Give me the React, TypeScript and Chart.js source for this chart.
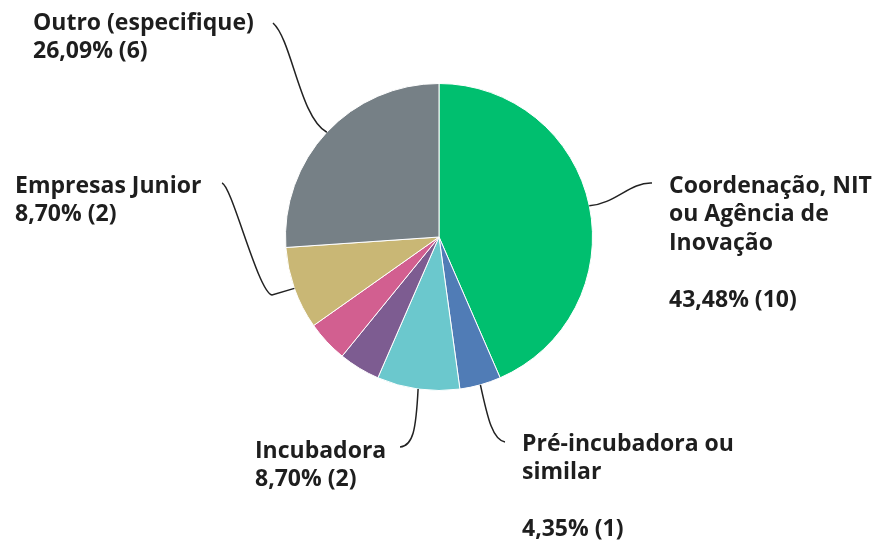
import React, { useEffect, useRef } from "react";
import { Chart, registerables } from "chart.js";

Chart.register(...registerables);

const categories = [
  "Coordenação, NIT ou Agência de Inovação",
  "Pré-incubadora ou similar",
  "Incubadora",
  "Aceleradora",
  "Parque Tecnológico",
  "Empresas Junior",
  "Outro (especifique)",
];
const counts = [10, 1, 2, 1, 1, 2, 6];
const colors = ["#00BF6F", "#507CB6", "#6BC8CD", "#7D5C91", "#D25F90", "#C9B775", "#768086"];

// label text lines per slice (null = no label shown)
const labelLines: (string[] | null)[] = [
  ["Coordenação, NIT", "ou Agência de", "Inovação", ""],
  ["Pré-incubadora ou", "similar", ""],
  ["Incubadora"],
  null,
  null,
  ["Empresas Junior"],
  ["Outro (especifique)"],
];

// layout of labels: text origin (left, center of first line) and leader geometry
const labelLayout: Record<number, { tx: number; ty: number; c1: [number, number]; c2: [number, number]; end: [number, number]; extra?: [number, number] }> = {
  0: { tx: 669, ty: 186, c1: [615, 204], c2: [630, 182], end: [652, 183] },
  1: { tx: 522, ty: 444, c1: [488, 420], c2: [493, 440], end: [505, 442] },
  2: { tx: 255, ty: 451, c1: [416, 430], c2: [413, 446], end: [400, 447] },
  5: { tx: 15, ty: 186, c1: [282, 290], c2: [272, 296], end: [222, 183], extra: [258, 292] },
  6: { tx: 33, ty: 23, c1: [300, 118], c2: [292, 40], end: [273, 23] },
};

const total = counts.reduce((a, b) => a + b, 0);
const pctText = (v: number) => ((v / total) * 100).toFixed(2).replace(".", ",") + "% (" + v + ")";

const labelsPlugin = {
  id: "pieLabels",
  afterDraw(chart: any) {
    const ctx = chart.ctx;
    const meta = chart.getDatasetMeta(0);
    ctx.save();
    const fontSize = 23;
    const lh = 28.5;
    ctx.font = `700 ${fontSize}px "Open Sans"`;
    ctx.fillStyle = "#1e1e1e";
    ctx.textBaseline = "middle";
    ctx.textAlign = "left";
    meta.data.forEach((arc: any, i: number) => {
      const lines = labelLines[i];
      const lay = labelLayout[i];
      if (!lines || !lay) return;
      const p = arc.getProps(["x", "y", "startAngle", "endAngle", "outerRadius"], true);
      const mid = (p.startAngle + p.endAngle) / 2;
      const sx = p.x + Math.cos(mid) * p.outerRadius;
      const sy = p.y + Math.sin(mid) * p.outerRadius;
      ctx.beginPath();
      ctx.strokeStyle = "#222";
      ctx.lineWidth = 1.5;
      ctx.moveTo(sx, sy);
      if (lay.extra) {
        const ex = lay.extra;
        ctx.lineTo(272, 295);
        ctx.bezierCurveTo(ex[0], ex[1], 232, 186, lay.end[0], lay.end[1]);
      } else {
        ctx.bezierCurveTo(lay.c1[0], lay.c1[1], lay.c2[0], lay.c2[1], lay.end[0], lay.end[1]);
      }
      ctx.stroke();
      const all = [...lines, pctText(counts[i])];
      all.forEach((t, k) => {
        if (t) ctx.fillText(t, lay.tx, lay.ty + k * lh);
      });
    });
    ctx.restore();
  },
};

export default function App() {
  const ref = useRef<HTMLCanvasElement>(null);
  useEffect(() => {
    document.body.style.margin = "0";
    const chart = new Chart(ref.current!, {
      type: "pie",
      data: {
        labels: categories,
        datasets: [
          {
            data: counts,
            backgroundColor: colors,
            borderColor: "#ffffff",
            borderWidth: 1,
          },
        ],
      },
      options: {
        responsive: false,
        animation: false,
        devicePixelRatio: 1,
        layout: { padding: { top: 83, bottom: 151, left: 0, right: 0 } },
        plugins: {
          legend: { display: false },
          tooltip: { enabled: false },
        },
      },
      plugins: [labelsPlugin],
    });
    return () => chart.destroy();
  }, []);
  return (
    <div style={{ width: 878, height: 542, background: "#fff" }}>
      <canvas ref={ref} width={878} height={542} />
    </div>
  );
}
